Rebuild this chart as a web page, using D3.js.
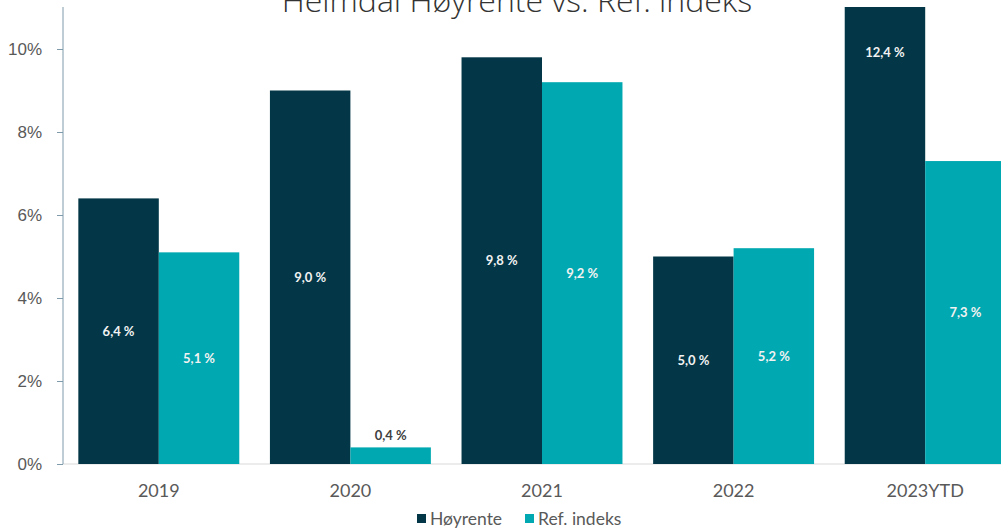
<!DOCTYPE html>
<html lang="no">
<head>
<meta charset="UTF-8">
<title>Heimdal Høyrente vs. Ref. indeks</title>
<script src="https://d3js.org/d3.v7.min.js"></script>
<style>
    html, body { margin: 0; padding: 0; background: #fff; }
    svg { font-family: Lato, "Open Sans", sans-serif; display: block; }
    .title { font-family: "Open Sans", sans-serif; font-weight: 300; font-size: 32px; fill: #333; }
    .tick text { fill: #595959; font-size: 17px; }
    .val { font-size: 13px; font-weight: bold; text-anchor: middle; }
    .legend text { fill: #595959; font-size: 17.5px; }
</style>
</head>
<body>
<div id="chart"></div>
<script>
    const categories = ["2019", "2020", "2021", "2022", "2023YTD"];
    const series = ["Høyrente", "Ref. indeks"];
    const hoyrente = [6.4, 9.0, 9.8, 5.0, 12.4];
    const refIndeks = [5.1, 0.4, 9.2, 5.2, 7.3];
    const yTicks = [0, 2, 4, 6, 8, 10];
    const colors = ["#033747", "#00a8b1"];

    const width = 1001, height = 529;
    const x0 = 63, yBase = 464, yTop = 7;

    const svg = d3.select("#chart").append("svg")
        .attr("width", width).attr("height", height);

    const x = d3.scaleBand().domain(categories)
        .range([x0, x0 + 958]).paddingInner(0.16).paddingOuter(0.08);
    const xs = d3.scaleBand().domain(series).range([0, x.bandwidth()]);
    const y = d3.scaleLinear().domain([0, 11]).range([yBase, yTop + 0.5]);

    const rows = categories.map((c, i) => ({cat: c, vals: [hoyrente[i], refIndeks[i]]}));

    svg.append("defs").append("clipPath").attr("id", "plot")
        .append("rect").attr("x", x0).attr("y", yTop).attr("width", width - x0).attr("height", yBase - yTop);

    // baseline
    svg.append("line").attr("x1", x0).attr("x2", width).attr("y1", yBase).attr("y2", yBase)
        .attr("stroke", "#d9d9d9").attr("stroke-width", 1);

    const groups = svg.append("g").attr("clip-path", "url(#plot)")
        .selectAll("g").data(rows).join("g")
        .attr("transform", d => `translate(${x(d.cat)},0)`);

    groups.selectAll("rect").data(d => d.vals.map((v, j) => ({v, s: series[j], j})))
        .join("rect")
        .attr("x", d => xs(d.s))
        .attr("y", d => y(d.v))
        .attr("width", xs.bandwidth())
        .attr("height", d => yBase - y(d.v))
        .attr("fill", d => colors[d.j]);

    const fmt = v => v.toFixed(1).replace(".", ",") + " %";
    const labels = svg.append("g");
    rows.forEach(r => {
        r.vals.forEach((v, j) => {
            const cx = x(r.cat) + xs(series[j]) + xs.bandwidth() / 2;
            let cy, fill = "#f2f2f2";
            if (v > 11) { cy = 52; }
            else if (v < 1) { cy = y(v) - 12; fill = "#404040"; }
            else { cy = (y(v) + yBase) / 2; }
            labels.append("text").attr("class", "val")
                .attr("x", cx).attr("y", cy).attr("dy", "0.35em")
                .attr("fill", fill).text(fmt(v));
        });
    });

    // y axis
    const yAxis = svg.append("g").attr("transform", `translate(${x0},0)`)
        .call(d3.axisLeft(y).tickValues(yTicks).tickFormat(d => d + "%").tickSize(6).tickPadding(15));
    yAxis.select(".domain").attr("d", `M-0,${yTop}V${yBase}`).attr("stroke", "#7f9bab");
    yAxis.selectAll(".tick line").attr("stroke", "#7f9bab");

    // x labels
    svg.append("g").selectAll("text").data(categories).join("text")
        .attr("x", d => x(d) + x.bandwidth() / 2).attr("y", 491).attr("dy", "0.35em")
        .attr("text-anchor", "middle").attr("fill", "#595959").style("font-size", "18px")
        .text(d => d);

    // title
    svg.append("text").attr("class", "title").attr("x", 517).attr("y", 12)
        .attr("text-anchor", "middle").text("Heimdal Høyrente vs. Ref. indeks");

    // legend
    const legend = svg.append("g").attr("class", "legend");
    const lx = [417, 525];
    series.forEach((s, j) => {
        legend.append("rect").attr("x", lx[j]).attr("y", 514).attr("width", 9).attr("height", 9)
            .attr("fill", colors[j]);
        legend.append("text").attr("x", lx[j] + 13).attr("y", 519).attr("dy", "0.35em").text(s);
    });
</script>
</body>
</html>
